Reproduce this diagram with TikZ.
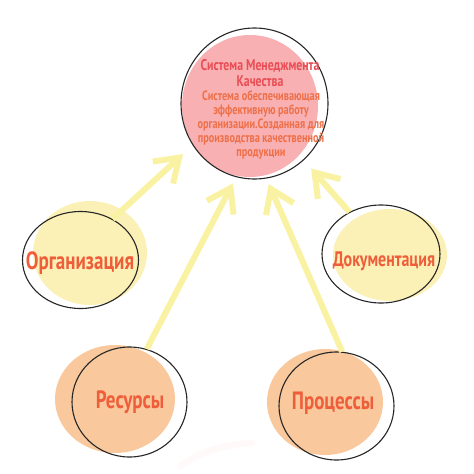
\documentclass[tikz,border=0pt]{standalone}
\usepackage{fontspec}
\newfontfamily\cond{PT Sans}[FakeStretch=0.76]
\usetikzlibrary{shapes.geometric,arrows.meta}
\definecolor{pinkfill}{HTML}{F8B0B2}
\definecolor{yelfill}{HTML}{FBF0B6}
\definecolor{orafill}{HTML}{F9C89C}
\definecolor{arrowyel}{HTML}{F9F2A2}
\definecolor{titlered}{HTML}{E94D55}
\definecolor{descor}{HTML}{EE7049}
\definecolor{labelred}{HTML}{EF5E3A}
\definecolor{outline}{HTML}{262626}
\tikzset{
  ring/.style={ellipse, draw=outline, line width=1.1pt, inner sep=0pt},
  lbl/.style={font=\cond\bfseries\fontsize{25}{27}\selectfont, text=labelred, inner sep=0pt},
  link/.style={draw=arrowyel, line width=6pt,
    -{Straight Barb[length=22pt, width=30pt, line width=6pt]}}
}
\begin{document}
\begin{tikzpicture}[x=1pt,y=-1pt]
\useasboundingbox (0,0) rectangle (474,474);
% fills
\fill[pinkfill] (250,106) ellipse [x radius=68, y radius=71];
\fill[yelfill] (90,253) ellipse [x radius=57, y radius=52];
\fill[yelfill] (390,255) ellipse [x radius=57, y radius=46];
\fill[orafill] (115,399) ellipse [x radius=60, y radius=54];
\fill[orafill] (325,402) ellipse [x radius=58, y radius=53];
% faint streak
\draw[draw=pinkfill, opacity=0.07, line width=7pt, line cap=round] (180,466) .. controls (200,452) and (225,444) .. (252,443);
% outlines
\node[ring, minimum width=147pt, minimum height=151pt] (top) at (254.5,103.5) {};
\node[ring, minimum width=116pt, minimum height=97pt] (org) at (80.5,260) {};
\node[ring, minimum width=118pt, minimum height=98pt] (doc) at (381,254) {};
\node[ring, minimum width=115pt, minimum height=110pt] (res) at (129.5,402) {};
\node[ring, minimum width=115pt, minimum height=108pt] (proc) at (336.5,406) {};
% texts
\node[align=center, inner sep=0pt, text=titlered, font=\cond\bfseries\fontsize{15.5}{15.5}\selectfont] (toptitle) at (260,73) {Система Менеджмента\\Качества};
\node[align=center, inner sep=0pt, text=descor, font=\cond\bfseries\fontsize{13.5}{14}\selectfont] (topdesc) at (261,125) {Система обеспечивающая\\эффективную работу\\организации.Созданная для\\производства качественной\\продукции};
\node[lbl] (orgtext) at (80,263) {Организация};
\node[lbl, font=\cond\bfseries\fontsize{21}{23}\selectfont] (doctext) at (384,261) {Документация};
\node[lbl] (restext) at (130,402) {Ресурсы};
\node[lbl] (proctext) at (333,403) {Процессы};
% arrows
\draw[link, shorten >=13pt] (org.52) -- (top.214);
\draw[link, shorten >=7pt] (res.72) -- (top.256);
\draw[link, shorten >=6pt] (proc.84) -- (top.279);
\draw[link, shorten >=11pt] (doc.127) -- (top.311);
\end{tikzpicture}
\end{document}
